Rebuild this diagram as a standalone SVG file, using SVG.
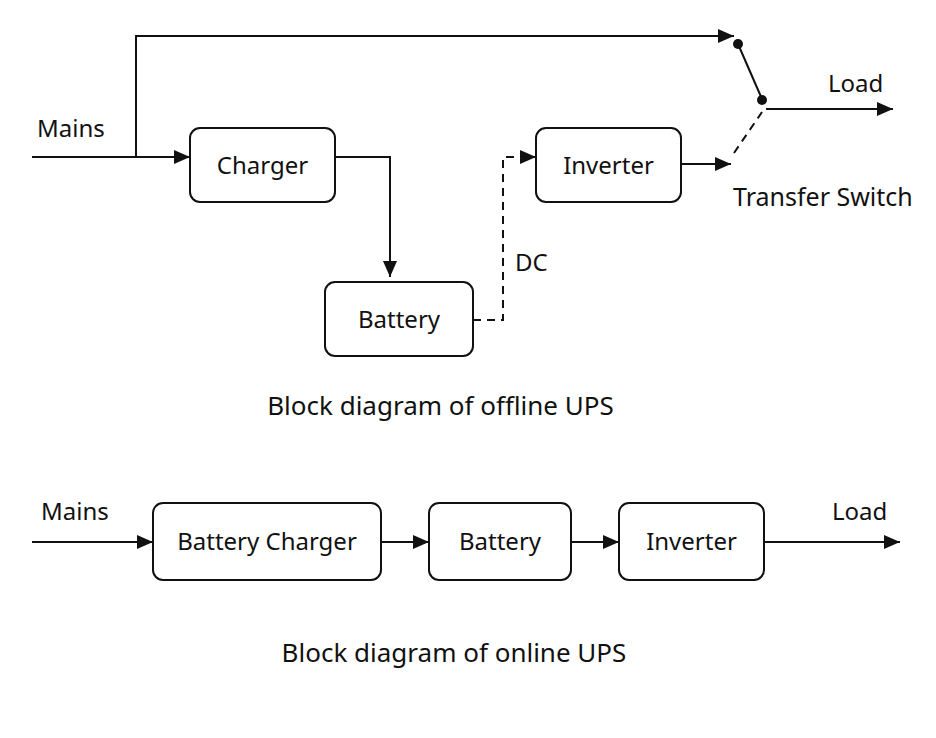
<svg xmlns="http://www.w3.org/2000/svg" width="936" height="738" viewBox="0 0 936 738">
<style>
.box{fill:#fff;stroke:#111;stroke-width:2}
.ln{fill:none;stroke:#111;stroke-width:2}
.dash{fill:none;stroke:#111;stroke-width:2;stroke-dasharray:8 6}
text{font-family:"Noto Sans","Open Sans",sans-serif;font-size:24px;fill:#111}
.c{text-anchor:middle}
.cap{font-size:26px}
</style>
<defs>
<marker id="ar" markerUnits="userSpaceOnUse" markerWidth="16" markerHeight="14" refX="16" refY="7" orient="auto">
<path d="M0,0 L16,7 L0,14 Z" fill="#111"/>
</marker>
</defs>
<rect width="936" height="738" fill="#fff"/>
<g id="connectors">
<path class="ln" d="M32,157 H190" marker-end="url(#ar)"/>
<path class="ln" d="M136,157 V36 H734" marker-end="url(#ar)"/>
<path class="ln" d="M335,157 H390 V277" marker-end="url(#ar)"/>
<path class="dash" d="M473,320 H503 V157 H536" marker-end="url(#ar)"/>
<path class="ln" d="M681,164 H731" marker-end="url(#ar)"/>
<path class="dash" d="M734,153 L762,112"/>
<path class="ln" d="M738,44 L762,99"/>
<path class="ln" d="M766,109 H893" marker-end="url(#ar)"/>
<path class="ln" d="M32,542 H153" marker-end="url(#ar)"/>
<path class="ln" d="M381,542 H429" marker-end="url(#ar)"/>
<path class="ln" d="M571,542 H619" marker-end="url(#ar)"/>
<path class="ln" d="M764,542 H900" marker-end="url(#ar)"/>
<circle cx="738" cy="44" r="5" fill="#111"/>
<circle cx="762" cy="100" r="5" fill="#111"/>
</g>
<g id="charger"><rect class="box" x="190" y="128" width="145" height="74" rx="10"/><text class="c" x="262.5" y="174">Charger</text></g>
<g id="battery"><rect class="box" x="325" y="282" width="148" height="74" rx="10"/><text class="c" x="399" y="328">Battery</text></g>
<g id="inverter"><rect class="box" x="536" y="128" width="145" height="74" rx="10"/><text class="c" x="608.5" y="174">Inverter</text></g>
<g id="labels-top">
<text x="37" y="137">Mains</text>
<text x="828" y="92">Load</text>
<text x="733" y="206" style="font-size:25px">Transfer Switch</text>
<text x="515" y="271">DC</text>
<text class="c cap" x="440.5" y="415">Block diagram of offline UPS</text>
</g>
<g id="battery-charger"><rect class="box" x="153" y="503" width="228" height="77" rx="10"/><text class="c" x="267" y="550">Battery Charger</text></g>
<g id="battery2"><rect class="box" x="429" y="503" width="142" height="77" rx="10"/><text class="c" x="500" y="550">Battery</text></g>
<g id="inverter2"><rect class="box" x="619" y="503" width="145" height="77" rx="10"/><text class="c" x="691.5" y="550">Inverter</text></g>
<g id="labels-bottom">
<text x="41" y="520">Mains</text>
<text x="832" y="520">Load</text>
<text class="c cap" x="454" y="662">Block diagram of online UPS</text>
</g>
</svg>
